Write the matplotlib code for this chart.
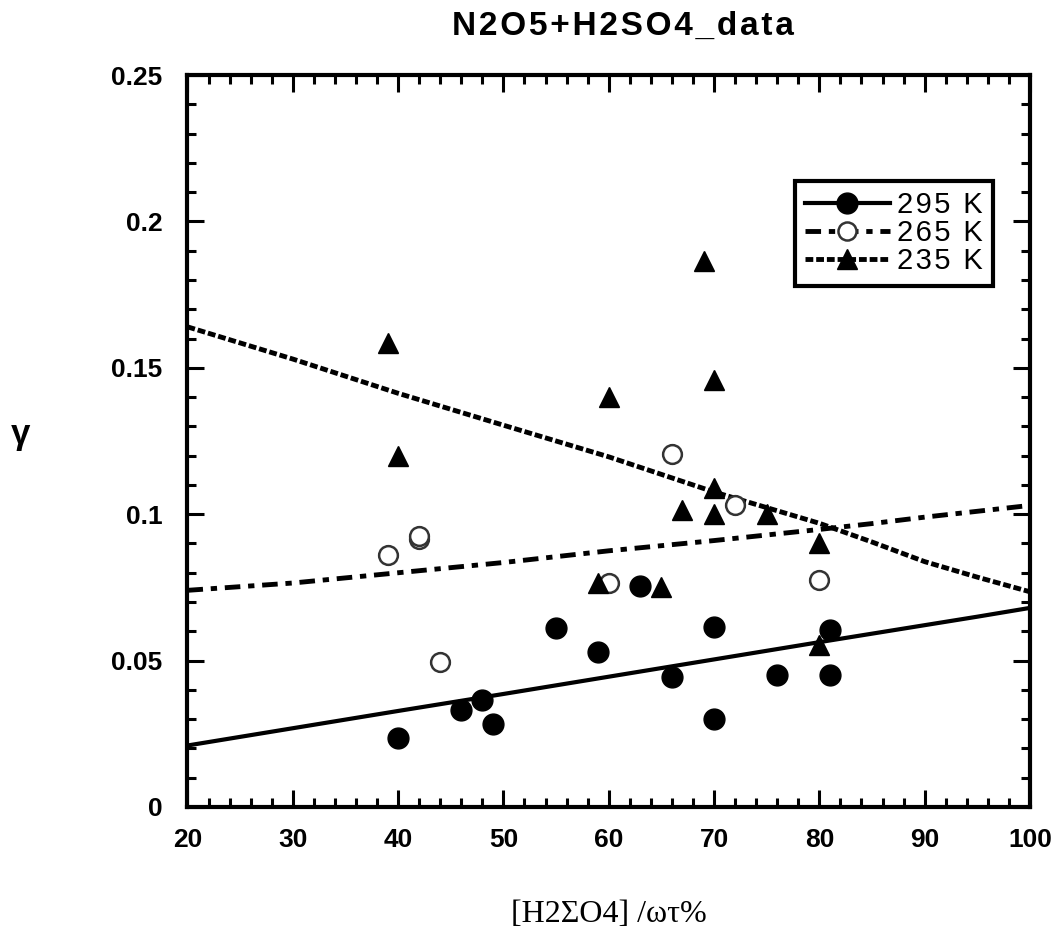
import matplotlib
matplotlib.use("Agg")
import matplotlib.pyplot as plt
from matplotlib.lines import Line2D
from matplotlib.ticker import MultipleLocator

plt.rcParams['font.family'] = ['Liberation Sans', 'DejaVu Sans']

# 295 K data
x295 = [40, 46, 48, 49, 55, 59, 63, 66, 70, 70, 76, 81, 81]
y295 = [0.0235, 0.033, 0.0365, 0.0285, 0.061, 0.053, 0.0755, 0.0445, 0.0615, 0.030, 0.045, 0.0605, 0.045]
# 265 K data
x265 = [39, 42, 42, 44, 60, 66, 72, 80]
y265 = [0.086, 0.0915, 0.0925, 0.0495, 0.0765, 0.1205, 0.103, 0.0775]
# 235 K data
x235 = [39, 40, 59, 60, 65, 67, 69, 70, 70, 70, 75, 80, 80]
y235 = [0.1585, 0.120, 0.0765, 0.140, 0.0752, 0.1015, 0.1865, 0.1457, 0.109, 0.100, 0.100, 0.090, 0.0553]

# fitted curves
fit_x = [20, 30, 40, 50, 60, 70, 80, 85, 90, 95, 100]
fit295 = [0.021, 0.0269, 0.0328, 0.0386, 0.0445, 0.0504, 0.0563, 0.0592, 0.0621, 0.065, 0.068]
fit265 = [0.074, 0.0765, 0.080, 0.0835, 0.0875, 0.091, 0.0948, 0.0968, 0.099, 0.101, 0.103]
fit235 = [0.164, 0.153, 0.1413, 0.1304, 0.1196, 0.1076, 0.0969, 0.0905, 0.0838, 0.0785, 0.0735]

labels = ["295 K", "265 K", "235 K"]

fig = plt.figure(figsize=(10.55, 9.31), dpi=100)
ax = fig.add_axes([0.1777, 0.1332, 0.7986, 0.7862])

ls265 = (0, (3.2, 1.6, 1.3, 1.6))
ls235 = (0, (1.6, 0.6))

ax.plot(fit_x, fit295, color='black', lw=3, linestyle='-')
ax.plot(fit_x, fit265, color='black', lw=3.5, linestyle=ls265)
ax.plot(fit_x, fit235, color='black', lw=3.5, linestyle=ls235)

ax.plot(x295, y295, 'o', color='black', ms=15, linestyle='none')
ax.plot(x265, y265, 'o', mfc='white', mec='#333333', mew=1.8, ms=13.5, linestyle='none')
ax.plot(x235, y235, '^', color='black', ms=14, linestyle='none')

ax.set_xlim(20, 100)
ax.set_ylim(0, 0.25)
ax.xaxis.set_major_locator(MultipleLocator(10))
ax.xaxis.set_minor_locator(MultipleLocator(2))
ax.yaxis.set_minor_locator(MultipleLocator(0.01))
ax.set_yticks([0, 0.05, 0.1, 0.15, 0.2, 0.25])
ax.set_yticklabels(["0", "0.05", "0.1", "0.15", "0.2", "0.25"])

for s in ax.spines.values():
    s.set_linewidth(3)
ax.tick_params(which='both', direction='in', top=True, right=True, width=2.2)
ax.tick_params(which='major', length=12)
ax.tick_params(which='minor', length=6.5)
ax.tick_params(axis='x', pad=15)
ax.tick_params(axis='y', pad=18)
for lab in ax.get_xticklabels() + ax.get_yticklabels():
    lab.set_fontweight('bold')
    lab.set_fontsize(19)

hs = "\u200a"
handles = [
    Line2D([], [], color='black', lw=3, marker='o', ms=15),
    Line2D([], [], color='black', lw=3.5, linestyle=ls265, marker='o', mfc='white', mec='#333333', mew=1.8, ms=13),
    Line2D([], [], color='black', lw=3.5, linestyle=ls235, marker='^', ms=14),
]
leg = ax.legend(handles, [hs.join(l) for l in labels], loc='upper right',
                bbox_to_anchor=(0.956, 0.855), borderaxespad=0, fancybox=False,
                edgecolor='black', framealpha=1, fontsize=21, handlelength=2.9,
                handletextpad=0.25, labelspacing=0.0, borderpad=0.35)
leg.get_frame().set_linewidth(3)

fig.text(623 / 1055, 1 - 26 / 931, hs.join("N2O5+H2SO4_data"), ha='center', va='center',
         fontsize=24, fontweight='bold',
         family=['Liberation Sans Narrow', 'Liberation Sans', 'DejaVu Sans'])
fig.text(20 / 1055, 1 - 435 / 931, "γ", ha='center', va='center', fontsize=25, fontweight='bold')
fig.text(609 / 1055, 1 - 915 / 931, "[H2ΣO4] /ωτ%", ha='center', va='center', fontsize=23,
         family=['Liberation Serif', 'DejaVu Serif'])

fig.savefig("out.png", dpi=100)
